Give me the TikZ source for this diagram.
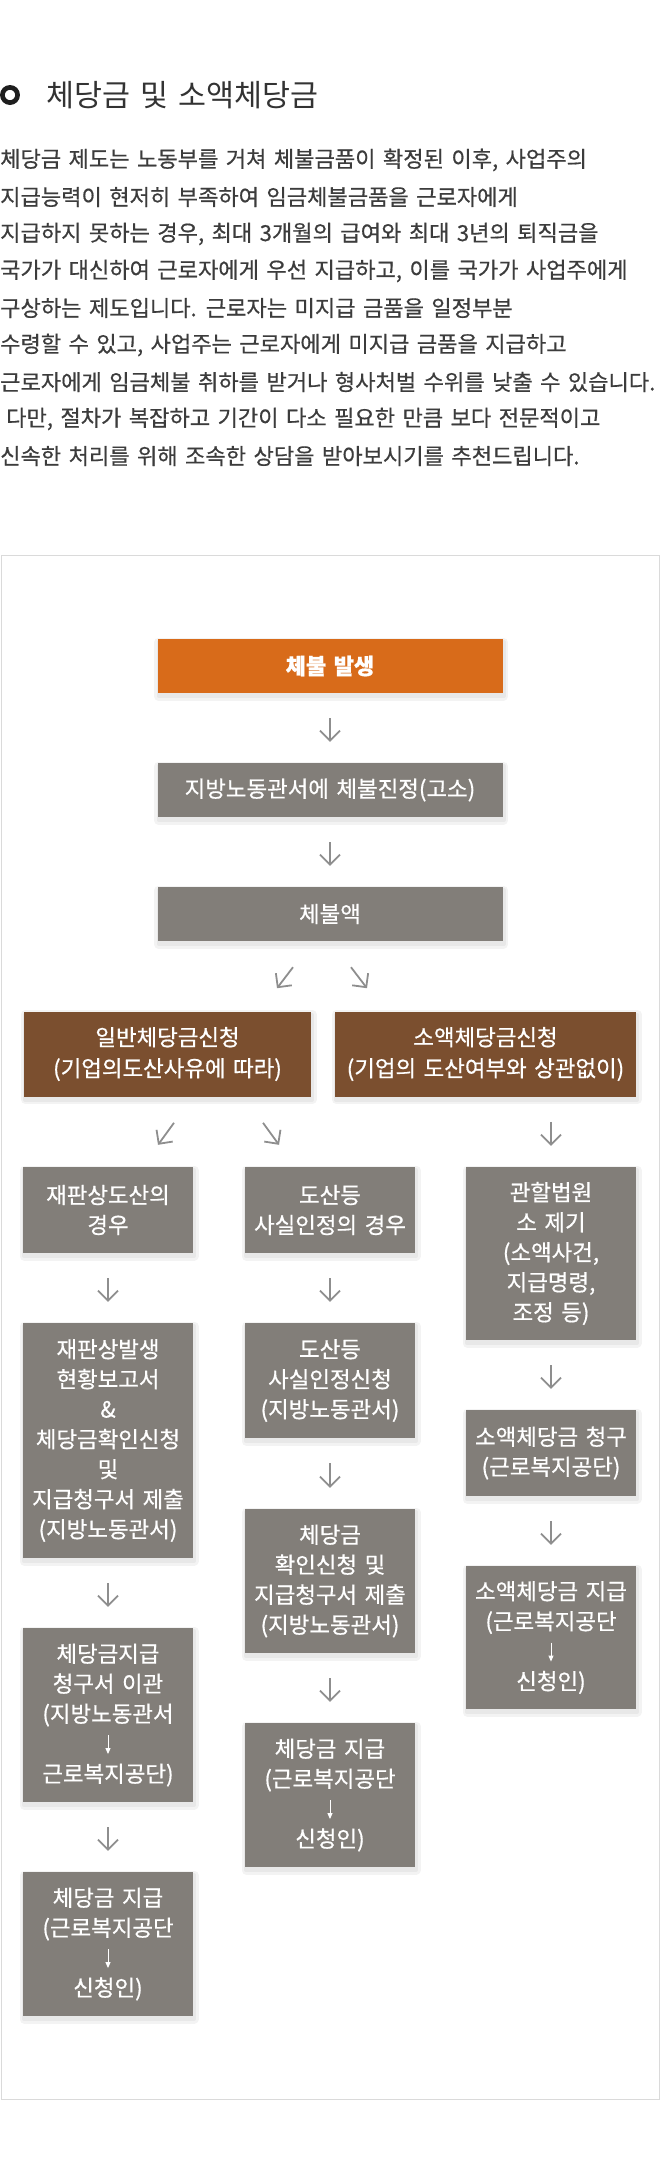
\documentclass[tikz,border=0pt]{standalone}
\usepackage{fontspec}
\usetikzlibrary{arrows.meta,calc}
\newfontfamily\kr[WordSpace=1.5,FakeBold=0.6]{Noto Sans CJK KR}
\newfontfamily\krt[WordSpace=1.5]{Noto Sans CJK KR}
\definecolor{corange}{HTML}{D86B1A}
\definecolor{cbrown}{HTML}{7B4F2F}
\definecolor{cgray}{HTML}{827E79}
\definecolor{cframe}{HTML}{DADADA}
\definecolor{carrow}{HTML}{8E8E8E}
\definecolor{cbody}{HTML}{3C3C3C}
\definecolor{ctitle}{HTML}{333333}
\definecolor{cdark}{HTML}{1E1E1E}
\definecolor{shA}{HTML}{F3F3F3}
\definecolor{shB}{HTML}{E8E8E8}
\newcommand\boxfont{\kr\fontsize{22.4pt}{30pt}\selectfont}
\newcommand\bodyfont{\kr\fontsize{22.1pt}{37pt}\selectfont}
\newcommand\smarrow{\tikz[baseline=0pt]\draw[white,line width=1pt,-{Triangle[length=6pt,width=5pt]}] (0pt,17pt) -- (0pt,-2pt);}
\tikzset{
  shadowbox/.style={
    preaction={draw=shA,fill=shA,line width=9pt,line join=round,transform canvas={shift={(1pt,-3pt)}}},
    preaction={draw=shB,fill=shB,line width=4pt,line join=round,transform canvas={shift={(1pt,-3pt)}}}},
  boxbase/.style={shadowbox,inner sep=0pt,text=white,align=center,font=\boxfont},
  orangebox/.style={boxbase,fill=corange,minimum width=345pt,minimum height=54pt},
  topbox/.style={boxbase,fill=cgray,minimum width=345pt,minimum height=54pt},
  brownbox/.style={boxbase,fill=cbrown,minimum height=85pt,font=\kr\fontsize{22.4pt}{31pt}\selectfont},
  colbox/.style={boxbase,fill=cgray,minimum width=170pt},
  garrow/.style={draw=carrow,line width=1.8pt,-{Straight Barb[length=10pt,width=20pt]}},
  bodyline/.style={anchor=west,inner sep=0pt,font=\bodyfont,text=cbody}
}
\begin{document}
\begin{tikzpicture}[x=1pt,y=-1pt]
\useasboundingbox (0,0) rectangle (660,2180);
% heading
\draw[cdark,line width=4.7pt] (10,95) circle[radius=7.6pt];
\node[anchor=west,inner sep=0pt,font=\krt\fontsize{30.4pt}{33pt}\selectfont,text=ctitle] (title) at (46,95) {체당금 및 소액체당금};
% body text
\node[bodyline] (l1) at (0,160) {체당금 제도는 노동부를 거쳐 체불금품이 확정된 이후, 사업주의};
\node[bodyline] (l2) at (0,197) {지급능력이 현저히 부족하여 임금체불금품을 근로자에게};
\node[bodyline] (l3) at (0,234) {지급하지 못하는 경우, 최대 3개월의 급여와 최대 3년의 퇴직금을};
\node[bodyline] (l4) at (0,271) {국가가 대신하여 근로자에게 우선 지급하고, 이를 국가가 사업주에게};
\node[bodyline] (l5) at (0,308) {구상하는 제도입니다. 근로자는 미지급 금품을 일정부분};
\node[bodyline] (l6) at (0,345) {수령할 수 있고, 사업주는 근로자에게 미지급 금품을 지급하고};
\node[bodyline] (l7) at (0,382) {근로자에게 임금체불 취하를 받거나 형사처벌 수위를 낮출 수 있습니다.};
\node[bodyline] (l8) at (6,419) {다만, 절차가 복잡하고 기간이 다소 필요한 만큼 보다 전문적이고};
\node[bodyline] (l9) at (0,456) {신속한 처리를 위해 조속한 상담을 받아보시기를 추천드립니다.};
% frame
\draw[cframe,line width=1pt] (1,555) rectangle (659,2099);
% top chain
\node[orangebox,font=\kr\fontsize{22pt}{30pt}\selectfont\bfseries] (n1) at (330,666) {체불 발생};
\node[topbox] (n2) at (330,790) {지방노동관서에 체불진정(고소)};
\node[topbox] (n3) at (330,914) {체불액};
\node[brownbox,minimum width=287pt] (b1) at (167.5,1054) {일반체당금신청\\(기업의도산사유에 따라)};
\node[brownbox,minimum width=301pt] (b2) at (485.5,1054) {소액체당금신청\\(기업의 도산여부와 상관없이)};
% columns
\node[colbox,minimum height=86pt] (c1a) at (108,1210) {재판상도산의\\경우};
\node[colbox,minimum height=86pt] (c2a) at (330,1210) {도산등\\사실인정의 경우};
\node[colbox,minimum height=173pt] (c3a) at (551,1253.5) {관할법원\\소 제기\\(소액사건,\\지급명령,\\조정 등)};
\node[colbox,minimum height=235pt] (c1b) at (108,1440.5) {재판상발생\\현황보고서\\\&\\체당금확인신청\\및\\지급청구서 제출\\(지방노동관서)};
\node[colbox,minimum height=115pt] (c2b) at (330,1380.5) {도산등\\사실인정신청\\(지방노동관서)};
\node[colbox,minimum height=86pt] (c3b) at (551,1453) {소액체당금 청구\\(근로복지공단)};
\node[colbox,minimum height=144pt] (c2c) at (330,1581) {체당금\\확인신청 및\\지급청구서 제출\\(지방노동관서)};
\node[colbox,minimum height=143pt] (c3c) at (551,1637.5) {소액체당금 지급\\(근로복지공단\\\smarrow\\신청인)};
\node[colbox,minimum height=174pt] (c1c) at (108,1715) {체당금지급\\청구서 이관\\(지방노동관서\\\smarrow\\근로복지공단)};
\node[colbox,minimum height=144pt] (c2d) at (330,1795) {체당금 지급\\(근로복지공단\\\smarrow\\신청인)};
\node[colbox,minimum height=144pt] (c1d) at (108,1944) {체당금 지급\\(근로복지공단\\\smarrow\\신청인)};
% vertical arrows
\draw[garrow] ($(n1.south)+(0,25)$) -- ($(n2.north)+(0,-21)$);
\draw[garrow] ($(n2.south)+(0,25)$) -- ($(n3.north)+(0,-21)$);
\draw[garrow] ($(c1a.south)+(0,25)$) -- ($(c1b.north)+(0,-21)$);
\draw[garrow] ($(c1b.south)+(0,25)$) -- ($(c1c.north)+(0,-21)$);
\draw[garrow] ($(c1c.south)+(0,25)$) -- ($(c1d.north)+(0,-21)$);
\draw[garrow] ($(c2a.south)+(0,25)$) -- ($(c2b.north)+(0,-21)$);
\draw[garrow] ($(c2b.south)+(0,25)$) -- ($(c2c.north)+(0,-21)$);
\draw[garrow] ($(c2c.south)+(0,25)$) -- ($(c2d.north)+(0,-21)$);
\draw[garrow] ($(c3a.north)+(0,-45)$) -- ($(c3a.north)+(0,-21)$);
\draw[garrow] ($(c3a.south)+(0,25)$) -- ($(c3b.north)+(0,-21)$);
\draw[garrow] ($(c3b.south)+(0,25)$) -- ($(c3c.north)+(0,-21)$);
% diagonal arrows
\coordinate (d1s) at ($(n3.south)+(-37,26)$);
\coordinate (d1e) at ($(n3.south)+(-53,47)$);
\coordinate (d2s) at ($(n3.south)+(21,26)$);
\coordinate (d2e) at ($(n3.south)+(37,47)$);
\draw[garrow] (d1s) -- (d1e);
\draw[garrow] (d2s) -- (d2e);
\coordinate (d3s) at ($(c1a.north)+(66,-44)$);
\coordinate (d3e) at ($(c1a.north)+(50,-22)$);
\coordinate (d4s) at ($(c2a.north)+(-67,-44)$);
\coordinate (d4e) at ($(c2a.north)+(-51,-22)$);
\draw[garrow] (d3s) -- (d3e);
\draw[garrow] (d4s) -- (d4e);
\end{tikzpicture}
\end{document}
